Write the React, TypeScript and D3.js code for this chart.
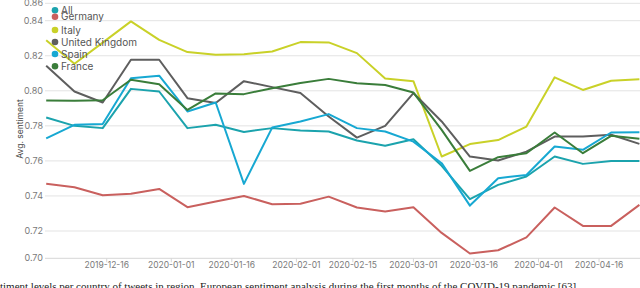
import * as d3 from "d3";

// weekly points (Sundays), Dec 1 2019 .. Apr 26 2020
const weeks = [
  "2019-12-01", "2019-12-08", "2019-12-15", "2019-12-22", "2019-12-29",
  "2020-01-05", "2020-01-12", "2020-01-19", "2020-01-26", "2020-02-02",
  "2020-02-09", "2020-02-16", "2020-02-23", "2020-03-01", "2020-03-08",
  "2020-03-15", "2020-03-22", "2020-03-29", "2020-04-05", "2020-04-12",
  "2020-04-19", "2020-04-26",
];

const allValues = [0.7848, 0.78, 0.7787, 0.8011, 0.7996, 0.7787, 0.7806, 0.7765, 0.7787, 0.7773, 0.7768, 0.7716, 0.7686, 0.7724, 0.7572, 0.7382, 0.7463, 0.7511, 0.7625, 0.7583, 0.76, 0.76];
const germany = [0.7469, 0.745, 0.7404, 0.7412, 0.744, 0.7336, 0.7368, 0.74, 0.7353, 0.7355, 0.7396, 0.7334, 0.7311, 0.7336, 0.7186, 0.7035, 0.7059, 0.7153, 0.7334, 0.7229, 0.7229, 0.7349];
const italy = [0.8288, 0.8154, 0.8275, 0.8396, 0.8291, 0.8221, 0.8206, 0.8209, 0.8224, 0.8278, 0.8276, 0.8215, 0.807, 0.8055, 0.7625, 0.7696, 0.7719, 0.7796, 0.8077, 0.8005, 0.8057, 0.8066];
const unitedKingdom = [0.8143, 0.7996, 0.7933, 0.8177, 0.8177, 0.7958, 0.793, 0.8055, 0.8021, 0.7987, 0.7853, 0.7733, 0.78, 0.7987, 0.7825, 0.7625, 0.7602, 0.7653, 0.7739, 0.7739, 0.7749, 0.7697];
const spain = [0.7728, 0.7806, 0.7811, 0.8072, 0.8086, 0.7882, 0.7933, 0.7469, 0.779, 0.7825, 0.7867, 0.7787, 0.7768, 0.771, 0.7587, 0.7345, 0.7501, 0.752, 0.7682, 0.7663, 0.7762, 0.7764];
const france = [0.7945, 0.7943, 0.7946, 0.8063, 0.8038, 0.7891, 0.7985, 0.7981, 0.8015, 0.8045, 0.8068, 0.8043, 0.8033, 0.799, 0.7777, 0.7543, 0.7621, 0.7644, 0.7762, 0.7644, 0.7743, 0.7726];

const seriesNames = ["All", "Germany", "Italy", "United Kingdom", "Spain", "France"];
const seriesValues = [allValues, germany, italy, unitedKingdom, spain, france];
const seriesColors = ["#1ba3ad", "#c9605e", "#c9d128", "#5e5e5e", "#17a8d2", "#3a7d3a"];

const yTicks = [0.7, 0.72, 0.74, 0.76, 0.78, 0.8, 0.82, 0.84, 0.86];
const xTickLabels = [
  "2019-12-16", "2020-01-01", "2020-01-16", "2020-02-01", "2020-02-15",
  "2020-03-01", "2020-03-16", "2020-04-01", "2020-04-16",
];

const caption =
  "timent levels per country of tweets in region. European sentiment analysis during the first months of the COVID-19 pandemic [63].";

const width = 640;
const height = 288;
const parse = d3.utcParse("%Y-%m-%d");

export default function App() {
  const x = d3
    .scaleUtc()
    .domain([parse(weeks[0])!, parse(weeks[weeks.length - 1])!])
    .range([46.2, 639.4]);

  // the source figure squeezes the outer bands, so the scale is piecewise
  const y = d3
    .scaleLinear()
    .domain([0.7, 0.72, 0.84, 0.86])
    .range([258.3, 231, 20.7, 3.3]);

  const line = d3
    .line<number>()
    .x((_, i) => x(parse(weeks[i])!))
    .y((d) => y(d));

  const font = "Inter, 'Noto Sans', sans-serif";

  return (
    <svg
      width={width}
      height={height}
      style={{ position: "absolute", left: 0, top: 0, background: "#fff" }}
    >
      <g>
        {yTicks.map((t) => (
          <g key={t}>
            <line
              x1={45}
              x2={width}
              y1={y(t)}
              y2={y(t)}
              stroke={t === 0.7 ? "#d6d6d6" : "#e3e3e3"}
              strokeWidth={1}
            />
            <text
              x={43}
              y={y(t)}
              dy="0.35em"
              textAnchor="end"
              fontSize={9}
              fontFamily={font}
              fill="#7a7a7a"
            >
              {t.toFixed(2)}
            </text>
          </g>
        ))}
      </g>

      <g>
        {xTickLabels.map((s) => {
          const px = x(parse(s)!);
          return (
            <g key={s}>
              <line x1={px} x2={px} y1={y(0.7)} y2={y(0.7) + 4} stroke="#d6d6d6" />
              <text
                x={px}
                y={268}
                textAnchor="middle"
                fontSize={8.5}
                fontFamily={font}
                fill="#7a7a7a"
              >
                {s}
              </text>
            </g>
          );
        })}
      </g>

      <text
        transform="translate(23,129) rotate(-90)"
        textAnchor="middle"
        fontSize={8.5}
        fontFamily={font}
        fill="#444"
      >
        Avg. sentiment
      </text>

      <g fill="none" strokeWidth={2} strokeLinejoin="round">
        {seriesValues.map((vals, i) => (
          <path key={seriesNames[i]} d={line(vals) ?? ""} stroke={seriesColors[i]} />
        ))}
      </g>

      <g>
        {seriesNames.map((name, i) => {
          const ly = [10.3, 16.7, 30, 42, 54, 66.3][i];
          return (
            <g key={name}>
              <circle cx={55} cy={ly} r={3.3} fill={seriesColors[i]} />
              <text
                x={61}
                y={ly}
                dy="0.35em"
                fontSize={10}
                fontFamily={font}
                fill="#555"
              >
                {name}
              </text>
            </g>
          );
        })}
      </g>

      <text x={0} y={290} fontSize={11} fontFamily="'Liberation Serif', serif" fill="#222">
        {caption}
      </text>
    </svg>
  );
}
